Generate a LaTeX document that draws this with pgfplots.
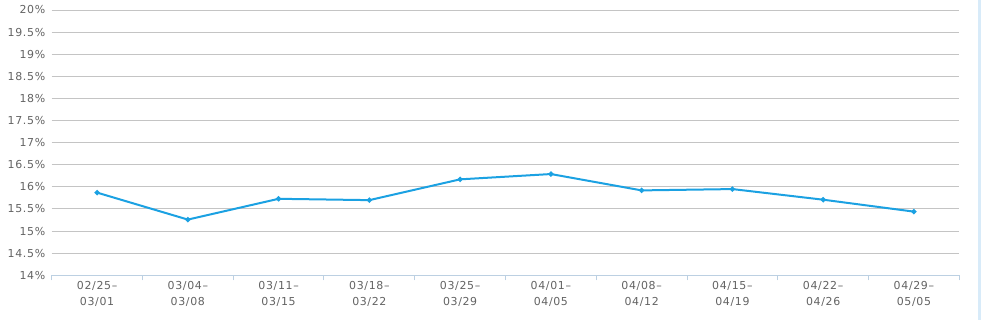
\documentclass[border=0pt]{standalone}
\usepackage{pgfplots}
\pgfplotsset{compat=1.18}
\usepackage{fontspec}
\setmainfont{DejaVu Sans}[LetterSpace=6]
\definecolor{lineblue}{HTML}{1BA1E2}
\definecolor{gridgray}{HTML}{C4C4C4}
\definecolor{axisblue}{HTML}{BCD0E2}
\definecolor{labelgray}{HTML}{636363}
\definecolor{stripe}{HTML}{D8EBF9}
\begin{document}
\begin{tikzpicture}
\begin{axis}[
  name=ax,
  scale only axis,
  width=907.6bp, height=265.3bp,
  xmin=-0.5, xmax=9.5,
  ymin=14, ymax=20,
  ytick={14,14.5,...,20},
  yticklabel={\pgfmathprintnumber{\tick}\%},
  /pgf/number format/assume math mode=true,
  xtick={0,...,9},
  xticklabels={{02/25–\\03/01},{03/04–\\03/08},{03/11–\\03/15},{03/18–\\03/22},{03/25–\\03/29},{04/01–\\04/05},{04/08–\\04/12},{04/15–\\04/19},{04/22–\\04/26},{04/29–\\05/05}},
  minor xtick={-0.5,0.5,...,9.5},
  xtick align=outside,
  major tick length=0pt,
  minor tick length=5bp,
  minor tick style={axisblue, line width=1bp},
  tick pos=left,
  axis line style={draw=none},
  ymajorgrids,
  major grid style={gridgray, line width=1bp},
  tick label style={font=\fontsize{11}{16}\selectfont, text=labelgray},
  xticklabel style={align=center, yshift=-3bp},
  yticklabel style={xshift=-3bp},
  clip=false,
]
\draw[axisblue, line width=1bp] (rel axis cs:0,0) -- (rel axis cs:1,0);
\addplot[lineblue, line width=2bp, mark=*, mark size=1.5bp, mark options={fill=lineblue, draw=lineblue}]
coordinates {
(0,15.87) (1,15.26) (2,15.73) (3,15.70) (4,16.17)
(5,16.29) (6,15.92) (7,15.95) (8,15.71) (9,15.44)
};
\end{axis}
\pgfresetboundingbox
\path[use as bounding box] (-51.7bp,-44.7bp) rectangle (929.3bp,275.3bp);
\fill[stripe] (926.3bp,-44.7bp) rectangle (929.3bp,275.3bp);
\end{tikzpicture}
\end{document}
